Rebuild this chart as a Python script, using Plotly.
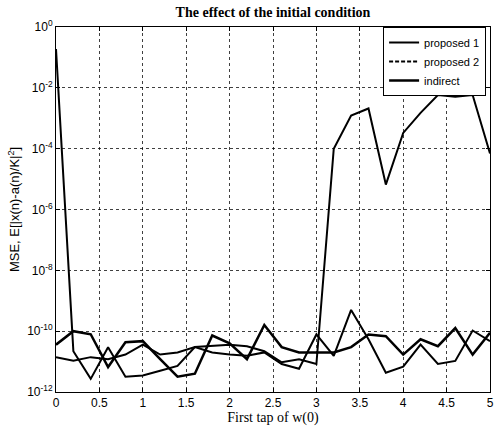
import plotly.graph_objects as go

x_tap = [0, 0.2, 0.4, 0.6, 0.8, 1.0, 1.2, 1.4, 1.6, 1.8, 2.0, 2.2, 2.4,
         2.6, 2.8, 3.0, 3.2, 3.4, 3.6, 3.8, 4.0, 4.2, 4.4, 4.6, 4.8, 5.0]

proposed1 = [1.9e-1, 2.2e-11, 2.7e-12, 2.95e-11, 3.2e-12, 3.5e-12, 5.0e-12,
             7.2e-12, 3.0e-11, 3.2e-11, 3.6e-11, 3.2e-11, 2.2e-11, 9.5e-12,
             1.2e-11, 8.3e-12, 1.0e-4, 1.23e-3, 2.1e-3, 6.6e-6, 3.3e-4,
             1.5e-3, 5.8e-3, 5.1e-3, 5.8e-3, 6.9e-5]

proposed2 = [1.4e-11, 1.07e-11, 1.4e-11, 1.2e-11, 1.7e-11, 3.6e-11, 1.7e-11,
             2.0e-11, 3.0e-11, 2.0e-11, 1.7e-11, 1.55e-11, 2.0e-11, 8.3e-12,
             5.8e-12, 7.8e-11, 1.55e-11, 5.0e-10, 5.4e-11, 4.3e-12, 6.8e-12,
             3.6e-11, 8.3e-12, 1.05e-11, 1.05e-10, 4.7e-11]

indirect = [3.6e-11, 1.0e-10, 7.9e-11, 6.6e-12, 4.3e-11, 4.7e-11, 1.2e-11,
            3.2e-12, 4.0e-12, 7.2e-11, 4.0e-11, 1.2e-11, 1.6e-10, 3.0e-11,
            2.0e-11, 2.0e-11, 2.0e-11, 3.0e-11, 7.8e-11, 6.8e-11, 1.7e-11,
            5.4e-11, 3.2e-11, 1.26e-10, 1.7e-11, 8.9e-11]

x_ticks = [0, 0.5, 1, 1.5, 2, 2.5, 3, 3.5, 4, 4.5, 5]
x_ticktext = ["0", "0.5", "1", "1.5", "2", "2.5", "3", "3.5", "4", "4.5", "5"]
y_ticks = [1e0, 1e-2, 1e-4, 1e-6, 1e-8, 1e-10, 1e-12]
y_ticktext = ["10<sup>0</sup>", "10<sup>-2</sup>", "10<sup>-4</sup>", "10<sup>-6</sup>",
              "10<sup>-8</sup>", "10<sup>-10</sup>", "10<sup>-12</sup>"]

fig = go.Figure()
fig.add_trace(go.Scatter(x=x_tap, y=proposed1, mode="lines", name="proposed 1",
                         line=dict(color="black", width=2), legendrank=1))
fig.add_trace(go.Scatter(x=x_tap, y=proposed2, mode="lines", name="proposed 2",
                         line=dict(color="black", width=2), showlegend=False))
fig.add_trace(go.Scatter(x=[None], y=[None], mode="lines", name="proposed 2",
                         line=dict(color="black", width=2, dash="4px,2px"), legendrank=2))
fig.add_trace(go.Scatter(x=x_tap, y=indirect, mode="lines", name="indirect",
                         line=dict(color="black", width=2.5), legendrank=3))

axis_common = dict(showline=True, linecolor="black", linewidth=1, mirror="ticks",
                   ticks="inside", ticklen=4, tickcolor="black",
                   showgrid=True, gridcolor="rgba(0,0,0,0.75)", gridwidth=1,
                   griddash="3px,3px", zeroline=False,
                   tickfont=dict(family="Liberation Sans, Arial", size=12, color="black"))

fig.update_xaxes(range=[0, 5], tickvals=x_ticks, ticktext=x_ticktext,
                 title=dict(text="First tap of w(0)", standoff=2,
                            font=dict(family="Liberation Serif, Times New Roman", size=14, color="black")),
                 **axis_common)
fig.update_yaxes(type="log", range=[-12, 0], tickvals=y_ticks, ticktext=y_ticktext,
                 title=dict(text="MSE, E[|x(n)-a(n)/K|<sup>2</sup>]", standoff=4,
                            font=dict(family="Liberation Sans, Arial", size=13, color="black")),
                 **axis_common)

fig.update_layout(
    width=500, height=428,
    margin=dict(l=56, r=6, t=27, b=30),
    paper_bgcolor="white", plot_bgcolor="white",
    title=dict(text="<b>The effect of the initial condition</b>", x=0.5, xref="paper",
               xanchor="center", y=0.983, yanchor="top",
               font=dict(family="Liberation Serif, Times New Roman", size=14, color="black")),
    legend=dict(x=0.991, y=1.0, xanchor="right", yanchor="top",
                bgcolor="white", bordercolor="black", borderwidth=1,
                font=dict(family="Liberation Sans, Arial", size=11, color="black"),
                itemwidth=30, tracegroupgap=0),
    showlegend=True,
)

fig.write_html("out.html")
